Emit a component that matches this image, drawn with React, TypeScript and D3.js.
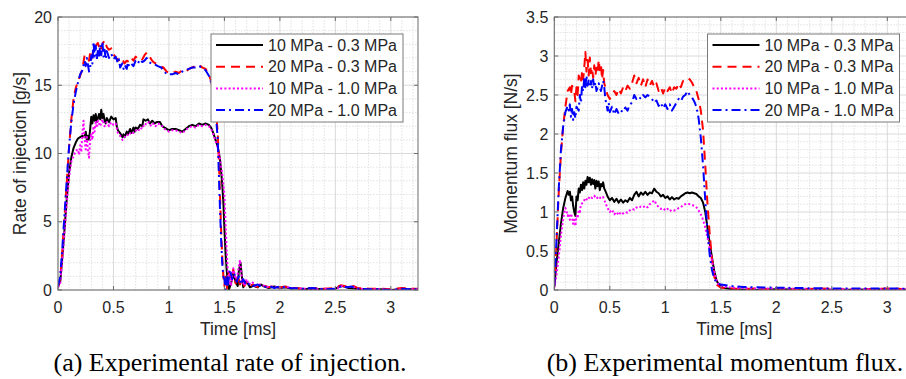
import React from 'react';
import * as d3 from 'd3';

type Pt = [number, number];

// ---------- (a) Rate of injection [g/s] ----------
const rate_10_03: Pt[] = [[0,0.3],[0.02,0.6],[0.04,2.5],[0.06,4.6],[0.08,6.8],[0.1,8.6],[0.12,9.7],[0.14,10.4],[0.16,10.8],[0.18,11.1],[0.2,11.2],[0.22,11.3],[0.24,11.2],[0.25,11.6],[0.26,11.0],[0.27,11.3],[0.28,11.0],[0.29,11.8],[0.3,12.7],[0.31,12.2],[0.32,12.8],[0.33,12.4],[0.34,12.9],[0.35,12.3],[0.36,12.6],[0.37,12.9],[0.38,12.5],[0.39,13.2],[0.4,12.6],[0.41,12.9],[0.42,12.4],[0.43,12.2],[0.44,12.6],[0.46,12.3],[0.48,12.7],[0.5,12.5],[0.52,12.6],[0.53,12.0],[0.54,11.7],[0.56,11.5],[0.58,11.2],[0.59,11.4],[0.6,11.2],[0.62,11.6],[0.63,11.4],[0.65,11.8],[0.66,11.5],[0.68,11.9],[0.69,11.6],[0.7,11.9],[0.72,11.8],[0.74,12.1],[0.76,12.0],[0.77,12.5],[0.79,12.4],[0.81,12.5],[0.83,12.2],[0.85,12.4],[0.87,12.2],[0.89,12.3],[0.92,12.3],[0.94,12.0],[0.96,11.9],[0.98,11.8],[1.0,11.7],[1.03,11.8],[1.06,11.8],[1.09,11.7],[1.12,11.6],[1.15,11.8],[1.18,12.0],[1.21,12.1],[1.24,12.0],[1.27,12.2],[1.3,12.1],[1.33,12.2],[1.36,12.1],[1.38,11.9],[1.4,11.5],[1.42,11.0],[1.44,10.5],[1.46,9.6],[1.48,7.8],[1.49,6.5],[1.5,4.5],[1.51,2.8],[1.52,1.5],[1.53,0.6],[1.54,0.0],[1.56,0.5],[1.58,1.2],[1.6,0.6],[1.62,0.3],[1.63,1.4],[1.645,2.0],[1.66,0.8],[1.67,0.2],[1.69,0.6],[1.71,0.5],[1.73,0.2],[1.76,0.3],[1.8,0.2],[1.83,0.4],[1.86,0.25],[1.9,0.15],[1.95,0.25],[2.0,0.15],[2.05,0.2],[2.1,0.1],[2.15,0.15],[2.2,0.05],[2.3,0.1],[2.4,0.05],[2.5,0.1],[2.55,0.3],[2.58,0.25],[2.62,0.15],[2.7,0.1],[2.8,0.05],[2.9,0.05],[3.0,0.0],[3.1,0.05],[3.2,0.05],[3.245,0.05]];

const rate_20_03: Pt[] = [[0,0.2],[0.02,0.8],[0.04,3.0],[0.06,5.5],[0.08,8.0],[0.1,10.5],[0.12,12.5],[0.14,14.0],[0.16,14.8],[0.18,15.3],[0.2,15.7],[0.22,16.2],[0.24,17.2],[0.26,17.1],[0.28,16.8],[0.29,17.4],[0.3,16.9],[0.32,17.6],[0.34,17.9],[0.36,18.1],[0.38,17.5],[0.4,18.0],[0.42,18.3],[0.44,17.8],[0.46,17.6],[0.48,17.7],[0.5,17.3],[0.52,17.0],[0.54,16.9],[0.56,16.7],[0.58,16.9],[0.6,16.6],[0.62,16.8],[0.64,16.7],[0.66,17.0],[0.68,16.8],[0.7,17.1],[0.72,16.9],[0.74,17.0],[0.76,16.9],[0.78,17.2],[0.8,17.4],[0.82,17.2],[0.84,16.9],[0.86,16.7],[0.88,16.6],[0.9,16.5],[0.92,16.4],[0.95,16.3],[0.98,16.0],[1.0,15.9],[1.03,15.9],[1.06,16.0],[1.09,15.9],[1.12,16.1],[1.15,16.0],[1.18,16.2],[1.21,16.3],[1.24,16.4],[1.27,16.5],[1.3,16.3],[1.33,16.2],[1.36,15.8],[1.38,15.3],[1.4,14.5],[1.42,13.5],[1.44,11.5],[1.45,9.5],[1.46,7.0],[1.47,4.5],[1.48,2.5],[1.49,1.0],[1.5,0.3],[1.51,1.2],[1.52,0.0],[1.54,1.3],[1.56,0.8],[1.58,1.5],[1.6,0.5],[1.62,1.1],[1.64,0.4],[1.66,0.8],[1.68,0.3],[1.7,0.6],[1.73,0.3],[1.76,0.4],[1.8,0.2],[1.85,0.35],[1.9,0.2],[1.95,0.3],[2.0,0.2],[2.05,0.25],[2.1,0.15],[2.2,0.1],[2.3,0.15],[2.4,0.1],[2.5,0.15],[2.55,0.35],[2.6,0.25],[2.66,0.3],[2.7,0.15],[2.8,0.1],[2.9,0.1],[3.0,0.05],[3.1,0.15],[3.2,0.1],[3.245,0.1]];

const rate_10_10: Pt[] = [[0,0.2],[0.02,0.5],[0.04,2.3],[0.06,4.4],[0.08,6.5],[0.1,8.3],[0.12,9.4],[0.14,9.8],[0.16,10.2],[0.18,10.3],[0.19,9.9],[0.2,10.6],[0.21,10.1],[0.22,11.5],[0.23,12.4],[0.24,11.0],[0.25,10.3],[0.26,11.2],[0.27,10.2],[0.28,9.7],[0.29,11.0],[0.3,11.5],[0.31,11.0],[0.32,12.0],[0.33,11.6],[0.34,12.3],[0.35,11.9],[0.36,12.4],[0.38,12.0],[0.4,12.5],[0.42,12.0],[0.44,12.3],[0.46,12.0],[0.48,12.3],[0.5,12.1],[0.52,12.2],[0.54,11.5],[0.56,11.3],[0.58,11.0],[0.6,11.2],[0.62,11.4],[0.64,11.3],[0.66,11.6],[0.68,11.5],[0.7,11.7],[0.72,11.6],[0.74,11.9],[0.76,11.8],[0.78,12.2],[0.8,12.1],[0.82,12.3],[0.84,12.0],[0.86,12.2],[0.88,12.0],[0.9,12.2],[0.93,12.1],[0.96,11.8],[1.0,11.6],[1.03,11.7],[1.06,11.7],[1.09,11.6],[1.12,11.5],[1.15,11.7],[1.18,11.9],[1.21,12.0],[1.24,11.9],[1.27,12.1],[1.3,12.0],[1.33,12.1],[1.36,12.0],[1.38,11.8],[1.4,11.4],[1.42,10.9],[1.44,10.4],[1.46,9.6],[1.48,8.5],[1.5,7.0],[1.51,5.0],[1.52,3.0],[1.53,1.5],[1.54,0.5],[1.55,1.3],[1.56,0.3],[1.58,1.6],[1.6,0.8],[1.62,1.2],[1.64,2.2],[1.66,0.7],[1.68,0.3],[1.7,0.8],[1.72,0.4],[1.75,0.6],[1.78,0.3],[1.82,0.4],[1.86,0.3],[1.9,0.2],[1.95,0.25],[2.0,0.15],[2.05,0.25],[2.1,0.15],[2.2,0.1],[2.3,0.05],[2.4,0.1],[2.5,0.05],[2.56,0.3],[2.6,0.2],[2.65,0.25],[2.7,0.1],[2.8,0.05],[2.9,0.05],[3.0,0.0],[3.1,0.05],[3.245,0.05]];

const rate_20_10: Pt[] = [[0,0.3],[0.02,1.0],[0.04,3.2],[0.06,5.7],[0.08,8.2],[0.1,10.5],[0.12,12.3],[0.14,13.6],[0.16,14.5],[0.18,15.2],[0.2,15.8],[0.22,16.1],[0.24,16.8],[0.25,16.4],[0.26,17.0],[0.27,16.5],[0.28,16.0],[0.29,16.3],[0.3,17.2],[0.31,16.6],[0.32,18.2],[0.33,17.1],[0.34,17.9],[0.35,16.9],[0.36,17.6],[0.37,17.0],[0.38,18.0],[0.39,17.2],[0.4,18.2],[0.41,17.1],[0.42,17.6],[0.43,16.9],[0.44,17.5],[0.46,17.0],[0.48,17.3],[0.5,16.9],[0.52,17.1],[0.54,16.6],[0.55,16.9],[0.56,16.3],[0.58,16.6],[0.59,16.2],[0.6,16.5],[0.62,16.2],[0.63,16.7],[0.64,16.4],[0.66,16.6],[0.68,16.4],[0.7,16.8],[0.72,16.6],[0.74,16.9],[0.76,16.7],[0.78,16.8],[0.8,17.0],[0.82,16.7],[0.84,16.6],[0.86,16.6],[0.88,16.5],[0.9,16.4],[0.93,16.3],[0.96,16.0],[0.98,15.8],[1.0,15.8],[1.03,15.8],[1.06,15.9],[1.09,15.8],[1.12,16.0],[1.15,16.1],[1.18,16.2],[1.21,16.3],[1.24,16.3],[1.27,16.4],[1.3,16.3],[1.33,16.1],[1.36,15.7],[1.38,15.2],[1.4,14.3],[1.42,13.2],[1.44,11.0],[1.45,8.5],[1.46,6.0],[1.47,3.8],[1.48,2.0],[1.49,1.0],[1.5,0.8],[1.51,0.0],[1.52,1.0],[1.53,0.3],[1.55,1.5],[1.57,0.8],[1.59,1.2],[1.61,0.6],[1.63,1.0],[1.65,0.4],[1.67,0.8],[1.7,0.3],[1.73,0.5],[1.76,0.3],[1.8,0.4],[1.85,0.2],[1.9,0.3],[1.95,0.15],[2.0,0.25],[2.1,0.15],[2.2,0.1],[2.3,0.15],[2.4,0.05],[2.5,0.1],[2.56,0.3],[2.6,0.2],[2.65,0.25],[2.7,0.1],[2.8,0.05],[2.9,0.05],[3.0,0.0],[3.1,0.1],[3.2,0.05],[3.245,0.05]];

// ---------- (b) Momentum flux [N/s] ----------
const flux_10_03: Pt[] = [[0,0.05],[0.02,0.35],[0.04,0.6],[0.06,0.85],[0.08,1.05],[0.1,1.18],[0.12,1.27],[0.13,1.22],[0.14,1.26],[0.15,1.15],[0.16,1.2],[0.17,1.08],[0.18,1.0],[0.19,0.95],[0.2,1.2],[0.21,1.15],[0.22,1.3],[0.23,1.25],[0.24,1.35],[0.25,1.28],[0.26,1.38],[0.27,1.3],[0.28,1.4],[0.29,1.35],[0.3,1.45],[0.31,1.38],[0.32,1.44],[0.33,1.35],[0.34,1.42],[0.35,1.36],[0.36,1.41],[0.37,1.3],[0.38,1.4],[0.39,1.33],[0.4,1.39],[0.41,1.28],[0.42,1.36],[0.43,1.33],[0.44,1.38],[0.45,1.3],[0.46,1.27],[0.48,1.2],[0.5,1.15],[0.52,1.18],[0.54,1.13],[0.56,1.17],[0.58,1.12],[0.6,1.16],[0.62,1.12],[0.64,1.15],[0.66,1.13],[0.68,1.18],[0.7,1.15],[0.72,1.22],[0.74,1.26],[0.76,1.2],[0.78,1.25],[0.8,1.22],[0.82,1.26],[0.84,1.22],[0.86,1.25],[0.88,1.24],[0.9,1.3],[0.92,1.26],[0.94,1.24],[0.96,1.2],[0.98,1.22],[1.0,1.18],[1.02,1.2],[1.04,1.16],[1.06,1.19],[1.08,1.16],[1.1,1.18],[1.12,1.17],[1.14,1.2],[1.16,1.22],[1.18,1.24],[1.2,1.25],[1.22,1.24],[1.24,1.25],[1.26,1.24],[1.28,1.23],[1.3,1.2],[1.32,1.18],[1.34,1.12],[1.36,1.0],[1.38,0.8],[1.4,0.6],[1.42,0.42],[1.44,0.25],[1.46,0.13],[1.48,0.07],[1.52,0.03],[1.6,0.01],[1.8,0.0],[2.0,0.01],[2.5,0.0],[3.0,0.01],[3.245,0.0]];

const flux_20_03: Pt[] = [[0,0.05],[0.02,0.6],[0.04,1.25],[0.06,1.75],[0.08,2.1],[0.1,2.35],[0.12,2.55],[0.14,2.6],[0.15,2.5],[0.16,2.62],[0.18,2.55],[0.19,2.42],[0.2,2.6],[0.21,2.5],[0.22,2.75],[0.24,2.65],[0.25,2.8],[0.26,2.7],[0.27,2.85],[0.28,3.05],[0.29,2.8],[0.3,2.95],[0.31,2.75],[0.32,2.98],[0.33,2.78],[0.34,2.85],[0.35,2.72],[0.36,2.88],[0.37,2.75],[0.38,2.85],[0.39,2.78],[0.4,2.95],[0.41,2.82],[0.42,2.9],[0.43,2.7],[0.44,2.82],[0.45,2.65],[0.46,2.6],[0.48,2.5],[0.5,2.45],[0.52,2.5],[0.54,2.55],[0.56,2.5],[0.58,2.58],[0.6,2.52],[0.62,2.6],[0.64,2.55],[0.66,2.62],[0.68,2.58],[0.7,2.65],[0.72,2.75],[0.74,2.65],[0.76,2.72],[0.78,2.62],[0.8,2.7],[0.82,2.6],[0.84,2.7],[0.86,2.62],[0.88,2.68],[0.9,2.6],[0.92,2.65],[0.94,2.55],[0.96,2.6],[0.98,2.52],[1.0,2.6],[1.02,2.55],[1.04,2.6],[1.06,2.52],[1.08,2.6],[1.1,2.58],[1.12,2.65],[1.14,2.6],[1.16,2.68],[1.18,2.7],[1.2,2.72],[1.22,2.7],[1.24,2.66],[1.26,2.6],[1.28,2.55],[1.3,2.45],[1.32,2.3],[1.34,2.05],[1.36,1.6],[1.38,1.1],[1.4,0.72],[1.42,0.4],[1.44,0.18],[1.46,0.07],[1.5,0.03],[1.6,0.02],[1.7,0.01],[1.8,0.02],[1.9,0.01],[2.0,0.02],[2.2,0.01],[2.4,0.02],[2.6,0.01],[2.8,0.01],[3.0,0.02],[3.245,0.01]];

const flux_10_10: Pt[] = [[0,0.03],[0.02,0.2],[0.04,0.42],[0.06,0.7],[0.08,0.92],[0.1,1.05],[0.11,1.02],[0.12,0.95],[0.13,0.98],[0.14,0.9],[0.15,0.98],[0.16,0.93],[0.17,0.85],[0.18,0.9],[0.19,0.82],[0.2,0.95],[0.21,0.92],[0.22,1.02],[0.23,1.0],[0.24,1.1],[0.26,1.12],[0.28,1.18],[0.3,1.15],[0.32,1.2],[0.34,1.18],[0.36,1.21],[0.38,1.17],[0.4,1.2],[0.42,1.17],[0.44,1.19],[0.46,1.12],[0.48,1.05],[0.5,1.0],[0.52,1.03],[0.54,0.97],[0.56,1.0],[0.58,0.96],[0.6,1.0],[0.62,0.98],[0.64,1.0],[0.66,0.99],[0.68,1.02],[0.7,1.04],[0.72,1.03],[0.74,1.06],[0.76,1.05],[0.78,1.07],[0.8,1.06],[0.82,1.08],[0.84,1.06],[0.86,1.1],[0.88,1.12],[0.9,1.15],[0.92,1.1],[0.94,1.06],[0.96,1.04],[0.98,1.05],[1.0,1.02],[1.02,1.04],[1.04,1.01],[1.06,1.03],[1.08,1.02],[1.1,1.03],[1.12,1.05],[1.14,1.06],[1.16,1.09],[1.18,1.1],[1.2,1.11],[1.22,1.1],[1.24,1.09],[1.26,1.08],[1.28,1.06],[1.3,1.02],[1.32,0.97],[1.34,0.9],[1.36,0.8],[1.38,0.68],[1.4,0.52],[1.42,0.38],[1.44,0.24],[1.46,0.13],[1.48,0.07],[1.5,0.05],[1.6,0.03],[1.8,0.02],[2.0,0.02],[2.5,0.01],[3.0,0.01],[3.245,0.01]];

const flux_20_10: Pt[] = [[0,0.05],[0.02,0.65],[0.04,1.3],[0.06,1.8],[0.08,2.1],[0.1,2.28],[0.12,2.36],[0.13,2.3],[0.14,2.38],[0.15,2.22],[0.16,2.32],[0.17,2.18],[0.18,2.28],[0.19,2.2],[0.2,2.35],[0.22,2.3],[0.23,2.5],[0.24,2.4],[0.25,2.62],[0.26,2.55],[0.27,2.72],[0.28,2.6],[0.29,2.75],[0.3,2.62],[0.31,2.7],[0.32,2.6],[0.33,2.68],[0.34,2.58],[0.35,2.7],[0.36,2.6],[0.37,2.66],[0.38,2.55],[0.4,2.65],[0.42,2.55],[0.44,2.68],[0.45,2.6],[0.46,2.45],[0.47,2.38],[0.48,2.3],[0.49,2.4],[0.5,2.28],[0.52,2.35],[0.54,2.25],[0.56,2.32],[0.58,2.26],[0.6,2.3],[0.62,2.28],[0.64,2.34],[0.66,2.3],[0.68,2.38],[0.7,2.4],[0.72,2.5],[0.74,2.45],[0.76,2.48],[0.78,2.45],[0.8,2.5],[0.82,2.47],[0.84,2.5],[0.86,2.48],[0.88,2.45],[0.9,2.4],[0.92,2.43],[0.94,2.36],[0.96,2.4],[0.98,2.33],[1.0,2.38],[1.02,2.32],[1.04,2.38],[1.06,2.3],[1.08,2.35],[1.1,2.4],[1.12,2.45],[1.14,2.42],[1.16,2.48],[1.18,2.5],[1.2,2.55],[1.22,2.5],[1.24,2.47],[1.26,2.42],[1.28,2.35],[1.3,2.2],[1.32,1.95],[1.34,1.6],[1.36,1.15],[1.38,0.75],[1.4,0.45],[1.42,0.26],[1.44,0.15],[1.46,0.1],[1.5,0.07],[1.6,0.05],[1.7,0.04],[1.8,0.035],[2.0,0.03],[2.2,0.025],[2.5,0.02],[2.8,0.02],[3.0,0.02],[3.245,0.015]];

const xTicks = [0, 0.5, 1, 1.5, 2, 2.5, 3];
const rateTicks = [0, 5, 10, 15, 20];
const fluxTicks = [0, 0.5, 1, 1.5, 2, 2.5, 3, 3.5];
const legendLabels = ['10 MPa - 0.3 MPa', '20 MPa - 0.3 MPa', '10 MPa - 1.0 MPa', '20 MPa - 1.0 MPa'];
const seriesColors = ['#000000', '#ff0000', '#ff00ff', '#0000ff'];
const seriesDashes = ['none', '9,6', '2,2.2', '9,4,2,4'];

const SANS = '"Liberation Sans", Arial, Helvetica, sans-serif';
const SERIF = '"Liberation Serif", "Times New Roman", serif';
const TXT = '#262626';

interface PanelProps {
  id: string;
  x0: number;
  x1: number;
  yMax: number;
  yTicks: number[];
  yMinor: number;
  series: Pt[][];
  yLabel: string;
  yLabelX: number;
  caption: string;
  captionX: number;
}

const TOP = 17;
const BOT = 290;
const XMAX = 3.245;

function Panel(p: PanelProps) {
  const x = d3.scaleLinear().domain([0, XMAX]).range([p.x0, p.x1]);
  const y = d3.scaleLinear().domain([0, p.yMax]).range([BOT, TOP]);
  const line = d3.line<Pt>().x(d => x(d[0])).y(d => y(d[1]));
  const xMinor = d3.range(0, XMAX + 1e-9, 0.1).filter(v => Math.abs(v / 0.5 - Math.round(v / 0.5)) > 1e-6);
  const yMinorVals = d3.range(0, p.yMax + 1e-9, p.yMinor).filter(v => !p.yTicks.some(t => Math.abs(t - v) < 1e-6));
  const legW = 192, legH = 88;
  const legX = p.x1 - 15 - legW;
  const legY = 34;
  return (
    <g>
      <defs>
        <clipPath id={`clip-${p.id}`}>
          <rect x={p.x0} y={TOP} width={p.x1 - p.x0} height={BOT - TOP} />
        </clipPath>
      </defs>
      <rect x={p.x0} y={TOP} width={p.x1 - p.x0} height={BOT - TOP} fill="#fff" />
      {xMinor.map((v, i) => (
        <line key={`xm${i}`} x1={x(v)} x2={x(v)} y1={TOP} y2={BOT} stroke="#d4d4d4" strokeWidth={0.7} strokeDasharray="1.5,1.5" />
      ))}
      {yMinorVals.map((v, i) => (
        <line key={`ym${i}`} x1={p.x0} x2={p.x1} y1={y(v)} y2={y(v)} stroke="#d4d4d4" strokeWidth={0.7} strokeDasharray="1.5,1.5" />
      ))}
      {xTicks.map((v, i) => (
        <line key={`xg${i}`} x1={x(v)} x2={x(v)} y1={TOP} y2={BOT} stroke="#d0d0d0" strokeWidth={0.8} />
      ))}
      {p.yTicks.map((v, i) => (
        <line key={`yg${i}`} x1={p.x0} x2={p.x1} y1={y(v)} y2={y(v)} stroke="#d0d0d0" strokeWidth={0.8} />
      ))}
      <g clipPath={`url(#clip-${p.id})`}>
        {p.series.map((s, i) => (
          <path key={`s${i}`} d={line(s) || ''} fill="none" stroke={seriesColors[i]} strokeWidth={2}
            strokeDasharray={seriesDashes[i]} strokeLinejoin="round" />
        ))}
      </g>
      <rect x={p.x0} y={TOP} width={p.x1 - p.x0} height={BOT - TOP} fill="none" stroke="#6a6a6a" strokeWidth={1} />
      {xTicks.map((v, i) => (
        <g key={`xt${i}`}>
          <line x1={x(v)} x2={x(v)} y1={BOT} y2={BOT - 4} stroke="#6a6a6a" />
          <line x1={x(v)} x2={x(v)} y1={TOP} y2={TOP + 4} stroke="#6a6a6a" />
          <text x={x(v)} y={313} textAnchor="middle" fontFamily={SANS} fontSize={16} fill={TXT}>{String(v)}</text>
        </g>
      ))}
      {p.yTicks.map((v, i) => (
        <g key={`yt${i}`}>
          <line x1={p.x0} x2={p.x0 + 4} y1={y(v)} y2={y(v)} stroke="#6a6a6a" />
          <line x1={p.x1} x2={p.x1 - 4} y1={y(v)} y2={y(v)} stroke="#6a6a6a" />
          <text x={p.x0 - 6} y={y(v) + 5.5} textAnchor="end" fontFamily={SANS} fontSize={16} fill={TXT}>{String(v)}</text>
        </g>
      ))}
      <text x={(p.x0 + p.x1) / 2} y={335} textAnchor="middle" fontFamily={SANS} fontSize={17.5} fill={TXT}>Time [ms]</text>
      <text transform={`translate(${p.yLabelX},${(TOP + BOT) / 2}) rotate(-90)`} textAnchor="middle" fontFamily={SANS} fontSize={17.5} fill={TXT}>{p.yLabel}</text>
      <rect x={legX} y={legY} width={legW} height={legH} fill="#fff" stroke="#7a7a7a" strokeWidth={1} />
      {legendLabels.map((lab, i) => {
        const cy = legY + 11 + i * 21.7;
        return (
          <g key={`lg${i}`}>
            <line x1={legX + 5} x2={legX + 52} y1={cy} y2={cy} stroke={seriesColors[i]} strokeWidth={2} strokeDasharray={seriesDashes[i]} />
            <text x={legX + 57} y={cy + 5.5} fontFamily={SANS} fontSize={16} fill={TXT}>{lab}</text>
          </g>
        );
      })}
      <text x={p.captionX} y={371} textAnchor="middle" fontFamily={SERIF} fontSize={26} fill="#000">{p.caption}</text>
    </g>
  );
}

export default function App() {
  return (
    <div style={{ position: 'fixed', left: 0, top: 0, width: 906, height: 379, background: '#fff' }}>
      <svg width={906} height={379} style={{ display: 'block' }}>
        <rect x={0} y={0} width={906} height={379} fill="#fff" />
        <Panel id="a" x0={58} x1={418} yMax={20} yTicks={rateTicks} yMinor={1}
          series={[rate_10_03, rate_20_03, rate_10_10, rate_20_10]}
          yLabel="Rate of injection [g/s]" yLabelX={26}
          caption="(a) Experimental rate of injection." captionX={230} />
        <Panel id="b" x0={554.3} x1={914.5} yMax={3.5} yTicks={fluxTicks} yMinor={0.1}
          series={[flux_10_03, flux_20_03, flux_10_10, flux_20_10]}
          yLabel="Momentum flux [N/s]" yLabelX={517}
          caption="(b) Experimental momentum flux." captionX={725} />
      </svg>
    </div>
  );
}
